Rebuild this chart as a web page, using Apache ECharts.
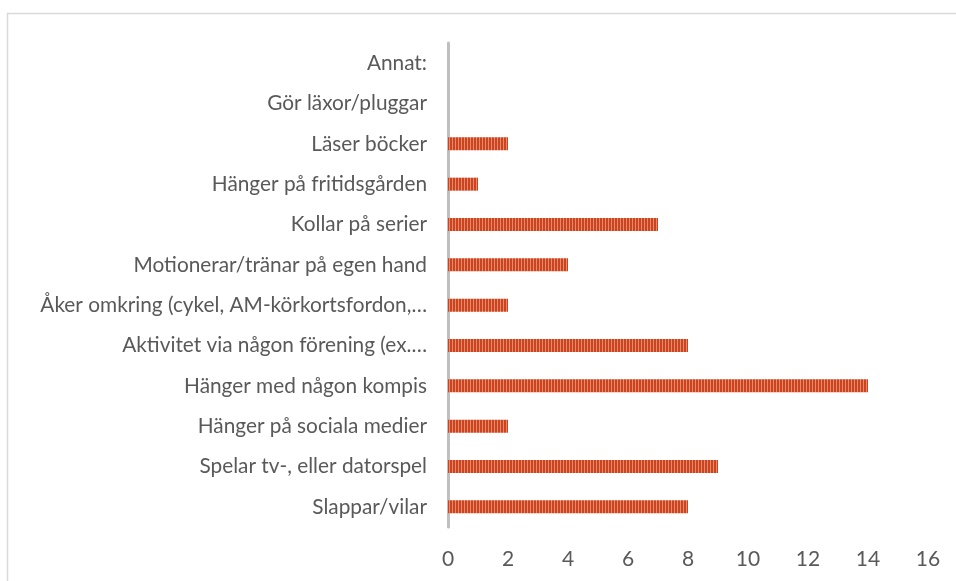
<!DOCTYPE html>
<html>
<head>
<meta charset="utf-8">
<script src="https://cdn.jsdelivr.net/npm/echarts@6/dist/echarts.min.js"></script>
<style>
  html, body { margin: 0; padding: 0; background: #fff; }
  #chart { width: 956px; height: 581px; }
</style>
</head>
<body>
<div id="chart"></div>
<script>
// kategorier, nerifrån och upp (ECharts ritar y-kategorier från botten)
var categories = [
  'Slappar/vilar',
  'Spelar tv-, eller datorspel',
  'Hänger på sociala medier',
  'Hänger med någon kompis',
  'Aktivitet via någon förening (ex.…',
  'Åker omkring (cykel, AM-körkortsfordon,…',
  'Motionerar/tränar på egen hand',
  'Kollar på serier',
  'Hänger på fritidsgården',
  'Läser böcker',
  'Gör läxor/pluggar',
  'Annat:'
];
var values = [8, 9, 2, 14, 8, 2, 4, 7, 1, 2, 0, 0];
var xTicks = [0, 2, 4, 6, 8, 10, 12, 14, 16];

// randigt mönster för staplarna
var pat = document.createElement('canvas');
pat.width = 3; pat.height = 4;
var ctx = pat.getContext('2d');
ctx.fillStyle = '#C9441F'; ctx.fillRect(0, 0, 2, 4);
ctx.fillStyle = '#E8896B'; ctx.fillRect(2, 0, 1, 4);

var chart = echarts.init(document.getElementById('chart'));
chart.setOption({
  animation: false,
  grid: { left: 448, right: 28, top: 43, bottom: 54, containLabel: false },
  graphic: [{
    type: 'rect',
    shape: { x: 7.5, y: 13.5, width: 1000, height: 1000 },
    style: { fill: 'none', stroke: '#D9D9D9', lineWidth: 1.5 },
    silent: true
  }],
  xAxis: {
    type: 'value',
    min: xTicks[0],
    max: xTicks[xTicks.length - 1],
    interval: 2,
    axisLine: { show: false },
    axisTick: { show: false },
    splitLine: { show: false },
    axisLabel: {
      color: '#595959',
      fontSize: 21,
      fontFamily: 'Lato',
      margin: 22
    }
  },
  yAxis: {
    type: 'category',
    data: categories,
    axisLine: { show: true, lineStyle: { color: '#BFBFBF', width: 3 } },
    axisTick: { show: false },
    axisLabel: {
      color: '#595959',
      fontSize: 20.8,
      fontFamily: 'Lato',
      margin: 21
    }
  },
  series: [{
    type: 'bar',
    data: values,
    barWidth: 13,
    itemStyle: { color: { image: pat, repeat: 'repeat' } }
  }]
});
</script>
</body>
</html>
